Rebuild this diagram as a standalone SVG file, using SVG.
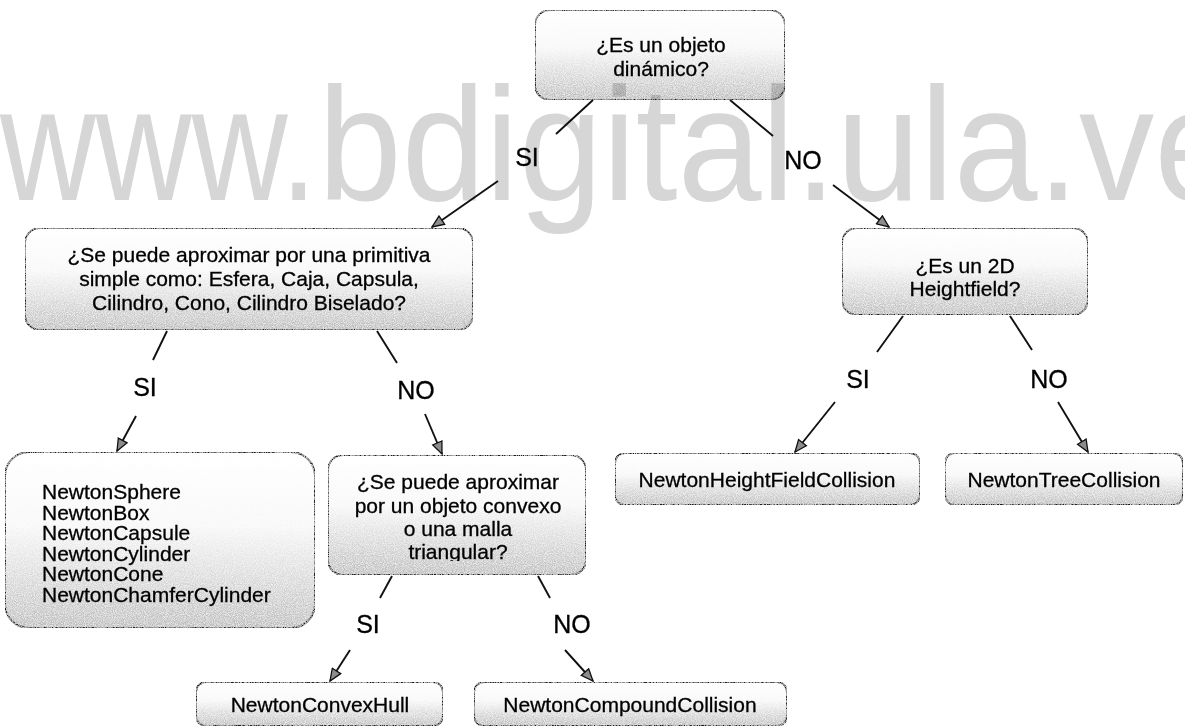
<svg xmlns="http://www.w3.org/2000/svg" width="1185" height="728" viewBox="0 0 1185 728">
  <defs>
    <!-- box fill: white at the top fading to a speckled grey at the bottom -->
    <linearGradient id="boxFill" x1="0" y1="0" x2="0" y2="1">
      <stop offset="0" stop-color="#ffffff"/>
      <stop offset="0.42" stop-color="#f7f7f7"/>
      <stop offset="1" stop-color="#bababa"/>
    </linearGradient>
    <filter id="grain" x="0" y="0" width="100%" height="100%">
      <feTurbulence type="fractalNoise" baseFrequency="1.1" numOctaves="1" seed="7" result="noise"/>
      <feColorMatrix in="noise" type="matrix" values="0 0 0 0 1  0 0 0 0 1  0 0 0 0 1  0 0 0 1.6 -0.55" result="specks"/>
      <feComposite in="specks" in2="SourceGraphic" operator="in" result="clipped"/>
      <feMerge>
        <feMergeNode in="SourceGraphic"/>
        <feMergeNode in="clipped"/>
      </feMerge>
    </filter>
    <marker id="arrow" viewBox="0 0 14 12" refX="13" refY="6" markerWidth="14" markerHeight="12" markerUnits="userSpaceOnUse" orient="auto">
      <path d="M1,1 L13,6 L1,11 Z" fill="#8c8c8c" stroke="#111" stroke-width="1.3" stroke-linejoin="miter"/>
    </marker>
    <clipPath id="convexClip">
      <rect x="328" y="455" width="258" height="106"/>
    </clipPath>
  </defs>
  <style>
    .box { fill: url(#boxFill); stroke: #1c1c1c; stroke-width: 1.9; filter: url(#grain); }
    .edge { stroke: #111; stroke-width: 1.9; fill: none; }
    .arr { marker-end: url(#arrow); }
    .t { font-family: "Liberation Sans", Arial, sans-serif; font-size: 21px; fill: #000; stroke: #000; stroke-width: 0.3; }
    .c { text-anchor: middle; }
    .lbl { font-family: "Liberation Sans", Arial, sans-serif; font-size: 25px; fill: #000; stroke: #000; stroke-width: 0.3; text-anchor: middle; }
    .wm { font-family: "Liberation Sans", Arial, sans-serif; font-size: 162px; fill: #d6d6d6; mix-blend-mode: multiply; }
  </style>

  <rect width="1185" height="728" fill="#ffffff"/>

  <!-- decision: dynamic object? -->
  <g id="q-dinamico">
    <rect class="box" x="535" y="10" width="250" height="90" rx="15"/>
    <text class="t c" x="661" y="52">¿Es un objeto</text>
    <text class="t c" x="661" y="76">dinámico?</text>
  </g>

  <!-- decision: simple primitive? -->
  <g id="q-primitiva">
    <rect class="box" x="25" y="228" width="448" height="102" rx="15"/>
    <text class="t c" x="249" y="262">¿Se puede aproximar por una primitiva</text>
    <text class="t c" x="249" y="286">simple como: Esfera, Caja, Capsula,</text>
    <text class="t c" x="249" y="310">Cilindro, Cono, Cilindro Biselado?</text>
  </g>

  <!-- decision: 2D heightfield? -->
  <g id="q-heightfield">
    <rect class="box" x="842" y="228" width="246" height="87" rx="15"/>
    <text class="t c" x="965" y="273">¿Es un 2D</text>
    <text class="t c" x="965" y="296">Heightfield?</text>
  </g>

  <!-- leaf: primitive collision shapes -->
  <g id="n-primitivas">
    <rect class="box" x="5" y="452" width="310" height="176" rx="24"/>
    <text class="t" x="42" y="499">NewtonSphere</text>
    <text class="t" x="42" y="519.5">NewtonBox</text>
    <text class="t" x="42" y="540">NewtonCapsule</text>
    <text class="t" x="42" y="560.5">NewtonCylinder</text>
    <text class="t" x="42" y="581">NewtonCone</text>
    <text class="t" x="42" y="601.5">NewtonChamferCylinder</text>
  </g>

  <!-- decision: convex object or triangle mesh? -->
  <g id="q-convexo">
    <rect class="box" x="328" y="455" width="258" height="120" rx="15"/>
    <g clip-path="url(#convexClip)">
      <text class="t c" x="458" y="489">¿Se puede aproximar</text>
      <text class="t c" x="458" y="513">por un objeto convexo</text>
      <text class="t c" x="458" y="536">o una malla</text>
      <text class="t c" x="458" y="559">triangular?</text>
    </g>
  </g>

  <g id="n-heightfield">
    <rect class="box" x="615" y="453" width="305" height="52" rx="10"/>
    <text class="t c" x="767" y="487">NewtonHeightFieldCollision</text>
  </g>

  <g id="n-tree">
    <rect class="box" x="945" y="453" width="238" height="52" rx="10"/>
    <text class="t c" x="1064" y="487">NewtonTreeCollision</text>
  </g>

  <g id="n-convexhull">
    <rect class="box" x="196" y="682" width="247" height="44" rx="10"/>
    <text class="t c" x="320" y="712">NewtonConvexHull</text>
  </g>

  <g id="n-compound">
    <rect class="box" x="474" y="682" width="313" height="44" rx="10"/>
    <text class="t c" x="630" y="712">NewtonCompoundCollision</text>
  </g>

  <!-- connectors with their SI / NO labels -->
  <g id="connectors">
    <line class="edge" x1="593" y1="100" x2="556" y2="134"/>
    <text class="lbl" x="527" y="166">SI</text>
    <line class="edge arr" x1="498" y1="181" x2="432" y2="227"/>

    <line class="edge" x1="730" y1="100" x2="773" y2="136"/>
    <text class="lbl" x="803" y="169">NO</text>
    <line class="edge arr" x1="833" y1="185" x2="889" y2="227"/>

    <line class="edge" x1="167" y1="331" x2="153" y2="360"/>
    <text class="lbl" x="145" y="396">SI</text>
    <line class="edge arr" x1="136" y1="416" x2="117" y2="451"/>

    <line class="edge" x1="377" y1="331" x2="397" y2="363"/>
    <text class="lbl" x="416" y="399">NO</text>
    <line class="edge arr" x1="425" y1="414" x2="442" y2="454"/>

    <line class="edge" x1="903" y1="316" x2="877" y2="352"/>
    <text class="lbl" x="858" y="388">SI</text>
    <line class="edge arr" x1="835" y1="402" x2="795" y2="452"/>

    <line class="edge" x1="1010" y1="316" x2="1032" y2="350"/>
    <text class="lbl" x="1049" y="388">NO</text>
    <line class="edge arr" x1="1058" y1="402" x2="1088" y2="452"/>

    <line class="edge" x1="392" y1="576" x2="380" y2="598"/>
    <text class="lbl" x="368" y="633">SI</text>
    <line class="edge arr" x1="350" y1="650" x2="330" y2="681"/>

    <line class="edge" x1="538" y1="576" x2="550" y2="598"/>
    <text class="lbl" x="572" y="633">NO</text>
    <line class="edge arr" x1="565" y1="650" x2="593" y2="681"/>
  </g>

  <!-- site watermark printed across the page -->
  <g id="watermark">
    <text class="wm" x="0" y="200" textLength="317" lengthAdjust="spacingAndGlyphs">www.</text>
    <text class="wm" x="318" y="200" textLength="920" lengthAdjust="spacingAndGlyphs">bdigital.ula.ve</text>
  </g>
</svg>
